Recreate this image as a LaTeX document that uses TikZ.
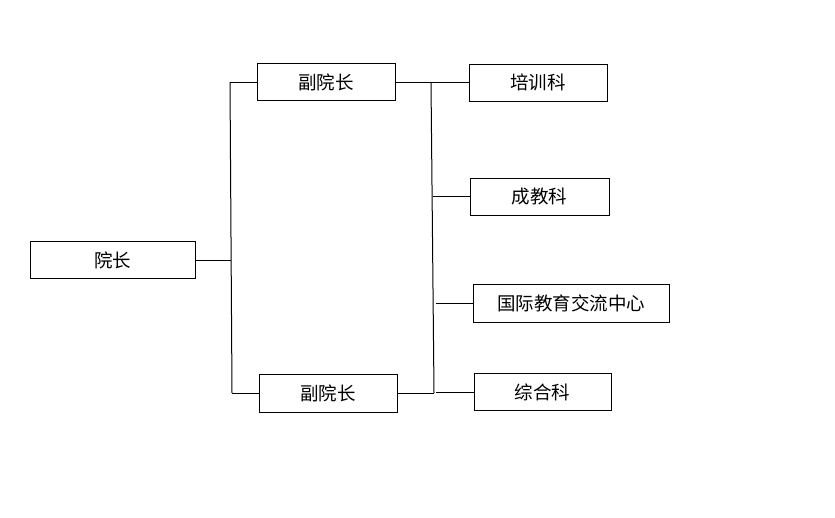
\documentclass[tikz,border=0pt]{standalone}
\usepackage{fontspec}
\newfontfamily\cjk{Noto Sans CJK SC}
\begin{document}
\begin{tikzpicture}[x=1pt,y=-1pt,
  box/.style={draw,line width=1pt,inner sep=0pt,font=\cjk\fontsize{18.5}{18.5}\selectfont},
  conn/.style={line width=1pt}]
\useasboundingbox (0,0) rectangle (835,517);
\node[box,minimum width=165pt,minimum height=37pt] (yz) at (112.5,260) {院长};
\node[box,minimum width=138pt,minimum height=37pt] (f1) at (326,82) {副院长};
\node[box,minimum width=138pt,minimum height=38pt] (f2) at (328,393) {副院长};
\node[box,minimum width=138pt,minimum height=37pt] (px) at (538,82.5) {培训科};
\node[box,minimum width=139pt,minimum height=37pt] (cj) at (539.5,196.5) {成教科};
\node[box,minimum width=196pt,minimum height=38pt] (gj) at (571,303) {国际教育交流中心};
\node[box,minimum width=137pt,minimum height=37pt] (zh) at (542.5,392) {综合科};
\coordinate (lt) at (230,82);
\coordinate (lb) at (232,393);
\coordinate (lm) at (231,260);
\coordinate (rt) at (431,82);
\coordinate (rb) at (434,393);
\coordinate (rc) at (432.5,196.5);
\coordinate (rg) at (436,303);
\coordinate (rz) at (436,392);
\draw[conn] (yz.east) -- (lm);
\draw[conn] (lt) -- (lb);
\draw[conn] (lt) -- (f1.west);
\draw[conn] (lb) -- (f2.west);
\draw[conn] (rt) -- (rb);
\draw[conn] (f1.east) -- (rt);
\draw[conn] (rt) -- (px.west |- rt);
\draw[conn] (f2.east) -- (rb);
\draw[conn] (rc) -- (cj.west);
\draw[conn] (rg) -- (gj.west);
\draw[conn] (rz) -- (zh.west);
\end{tikzpicture}
\end{document}
